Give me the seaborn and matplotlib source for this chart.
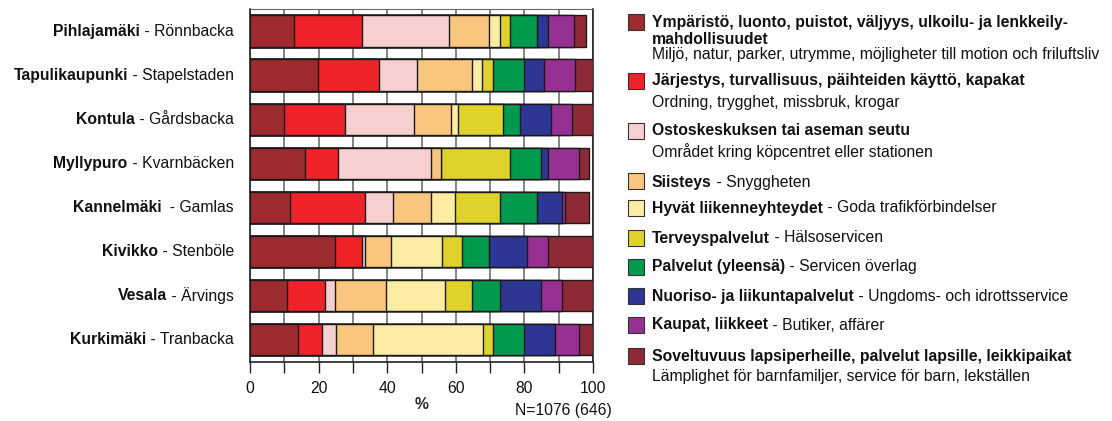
import matplotlib
matplotlib.use("Agg")
import matplotlib.pyplot as plt
from matplotlib.patches import Rectangle
from matplotlib.ticker import MultipleLocator
import numpy as np
import pandas as pd
import seaborn as sns

# Districts (Finnish name in bold, Swedish name after the dash)
district_fi = ["Pihlajamäki", "Tapulikaupunki", "Kontula", "Myllypuro",
               "Kannelmäki", "Kivikko", "Vesala", "Kurkimäki"]
district_sv = [" - Rönnbacka", " - Stapelstaden", " - Gårdsbacka", " - Kvarnbäcken",
               "  - Gamlas", " - Stenböle", " - Ärvings", " - Tranbacka"]

# Share of answers (%) per topic, one value per district
ymparisto   = [12.7, 19.7,  9.8, 15.9, 11.8, 24.9, 10.7, 13.9]
jarjestys   = [19.9, 17.8, 18.0,  9.9, 21.8,  7.7, 11.1,  7.0]
ostoskeskus = [25.3, 11.1, 20.1, 27.0,  8.2,  0.8,  3.1,  4.2]
siisteys    = [11.7, 16.1, 10.7,  2.9, 11.1,  7.6, 14.8, 10.7]
liikenne    = [ 3.3,  3.0,  2.1,  0.0,  7.0, 15.1, 17.2, 32.0]
terveys     = [ 2.8,  3.1, 13.0, 20.0, 13.0,  5.8,  7.8,  3.0]
palvelut    = [ 7.9,  9.1,  5.0,  9.2, 10.8,  7.8,  8.2,  9.1]
nuoriso     = [ 3.3,  5.8,  9.2,  1.9,  7.3, 11.1, 12.0,  9.1]
kaupat      = [ 7.7,  9.0,  6.0,  9.1,  0.8,  6.2,  6.1,  6.9]
lapsiperhe  = [ 3.4,  5.3,  6.1,  2.9,  7.1, 13.0,  9.0,  4.1]

series = [ymparisto, jarjestys, ostoskeskus, siisteys, liikenne,
          terveys, palvelut, nuoriso, kaupat, lapsiperhe]
colors = ["#9D2B30", "#EE2229", "#F6CFCF", "#F8C67E", "#FDECA4",
          "#DFD22C", "#009A4E", "#2E3593", "#963092", "#8E2A35"]

# Legend texts: (bold lines, text after the bold part, second line)
legend_bold = [
    ["Ympäristö, luonto, puistot, väljyys, ulkoilu- ja lenkkeily-", "mahdollisuudet"],
    ["Järjestys, turvallisuus, päihteiden käyttö, kapakat"],
    ["Ostoskeskuksen tai aseman seutu"],
    ["Siisteys"],
    ["Hyvät liikenneyhteydet"],
    ["Terveyspalvelut"],
    ["Palvelut (yleensä)"],
    ["Nuoriso- ja liikuntapalvelut"],
    ["Kaupat, liikkeet"],
    ["Soveltuvuus lapsiperheille, palvelut lapsille, leikkipaikat"],
]
legend_tail = ["", "", "", " - Snyggheten", " - Goda trafikförbindelser",
               " - Hälsoservicen", " - Servicen överlag",
               " - Ungdoms- och idrottsservice", " - Butiker, affärer", ""]
legend_second = ["Miljö, natur, parker, utrymme, möjligheter till motion och friluftsliv",
                 "Ordning, trygghet, missbruk, krogar",
                 "Området kring köpcentret eller stationen",
                 "", "", "", "", "", "",
                 "Lämplighet för barnfamiljer, service för barn, lekställen"]

x_ticks = [0, 20, 40, 60, 80, 100]
x_label = "%"
note = "N=1076 (646)"

sns.set_theme(style="white")
plt.rcParams["font.family"] = ["Liberation Sans", "DejaVu Sans"]
FS = 11.3

W, H = 1112, 421
fig = plt.figure(figsize=(W / 100, H / 100), dpi=100)
ax = fig.add_axes([250 / W, 1 - 361.5 / H, 343 / W, 352.2 / H])

# Stacked bars: draw cumulative totals from the last segment backwards
cum = np.cumsum(np.array(series), axis=0)
for k in range(len(series) - 1, -1, -1):
    df = pd.DataFrame({"district": district_fi, "value": cum[k]})
    sns.barplot(data=df, x="value", y="district", orient="h", color=colors[k],
                saturation=1, edgecolor="#1a1a1a", linewidth=1.0, width=0.72,
                errorbar=None, ax=ax, zorder=3)

ax.set_xlim(0, 100)
ax.set_ylim(len(district_fi) - 0.5, -0.5)
ax.xaxis.set_major_locator(MultipleLocator(20))
ax.xaxis.set_minor_locator(MultipleLocator(10))
ax.set_xticks(x_ticks)
ax.set_xticklabels([str(t) for t in x_ticks], fontsize=FS, color="#111111")
ax.tick_params(axis="x", which="both", direction="out", length=8, width=1,
               color="#222222", bottom=True, pad=6)
ax.tick_params(axis="y", length=0, labelleft=False)
ax.grid(axis="x", which="both", color="#707070", linewidth=1.2, zorder=0)
ax.grid(axis="y", visible=False)
ax.set_axisbelow(True)
ax.set_ylabel("")
ax.set_xlabel(x_label, fontsize=FS, fontweight="bold", labelpad=1)
for side, sp in ax.spines.items():
    sp.set_visible(True)
    sp.set_color("#222222")
    sp.set_linewidth(1.2)
ax.spines["top"].set_color("#666666")
ax.spines["top"].set_linewidth(0.8)

# District labels: Swedish part right-aligned, Finnish part in bold before it
for i, (fi, sv) in enumerate(zip(district_fi, district_sv)):
    t_sv = ax.annotate(sv, xy=(0, i), xycoords=("axes fraction", "data"),
                       xytext=(-16, 0), textcoords="offset pixels",
                       ha="right", va="center", fontsize=FS, color="#111111",
                       annotation_clip=False)
    ax.annotate(fi, xy=(0, 0.5), xycoords=t_sv, ha="right", va="center",
                fontsize=FS, fontweight="bold", color="#111111",
                annotation_clip=False)

fig.text(612 / W, 1 - 410 / H, note, ha="right", va="center",
         fontsize=FS, color="#111111")

# Legend drawn as swatches and text in figure pixels
def fx(px):
    return px / W

def fy(py):
    return 1 - py / H

bold_y = [[22, 39], [81], [131], [182], [208], [238], [267], [296], [325], [356]]
second_y = [55, 102, 152, None, None, None, None, None, None, 376]
swatch_y = [22, 81, 131, 181, 208, 238, 267, 296, 325, 356]
sw = 16
for k in range(len(series)):
    fig.add_artist(Rectangle((fx(628), fy(swatch_y[k] + sw / 2)), sw / W, sw / H,
                             transform=fig.transFigure, facecolor=colors[k],
                             edgecolor="#333333", linewidth=0.8))
    t_b = None
    for line, yy in zip(legend_bold[k], bold_y[k]):
        t_b = fig.text(fx(652), fy(yy), line, ha="left", va="center",
                       fontsize=FS, fontweight="bold", color="#111111")
    if legend_tail[k]:
        ax.annotate(legend_tail[k], xy=(1, 0.5), xycoords=t_b, ha="left",
                    va="center", fontsize=FS, color="#111111",
                    annotation_clip=False)
    if legend_second[k]:
        fig.text(fx(652), fy(second_y[k]), legend_second[k], ha="left",
                 va="center", fontsize=FS, color="#111111")

fig.savefig("out.png", dpi=100, facecolor="white")
